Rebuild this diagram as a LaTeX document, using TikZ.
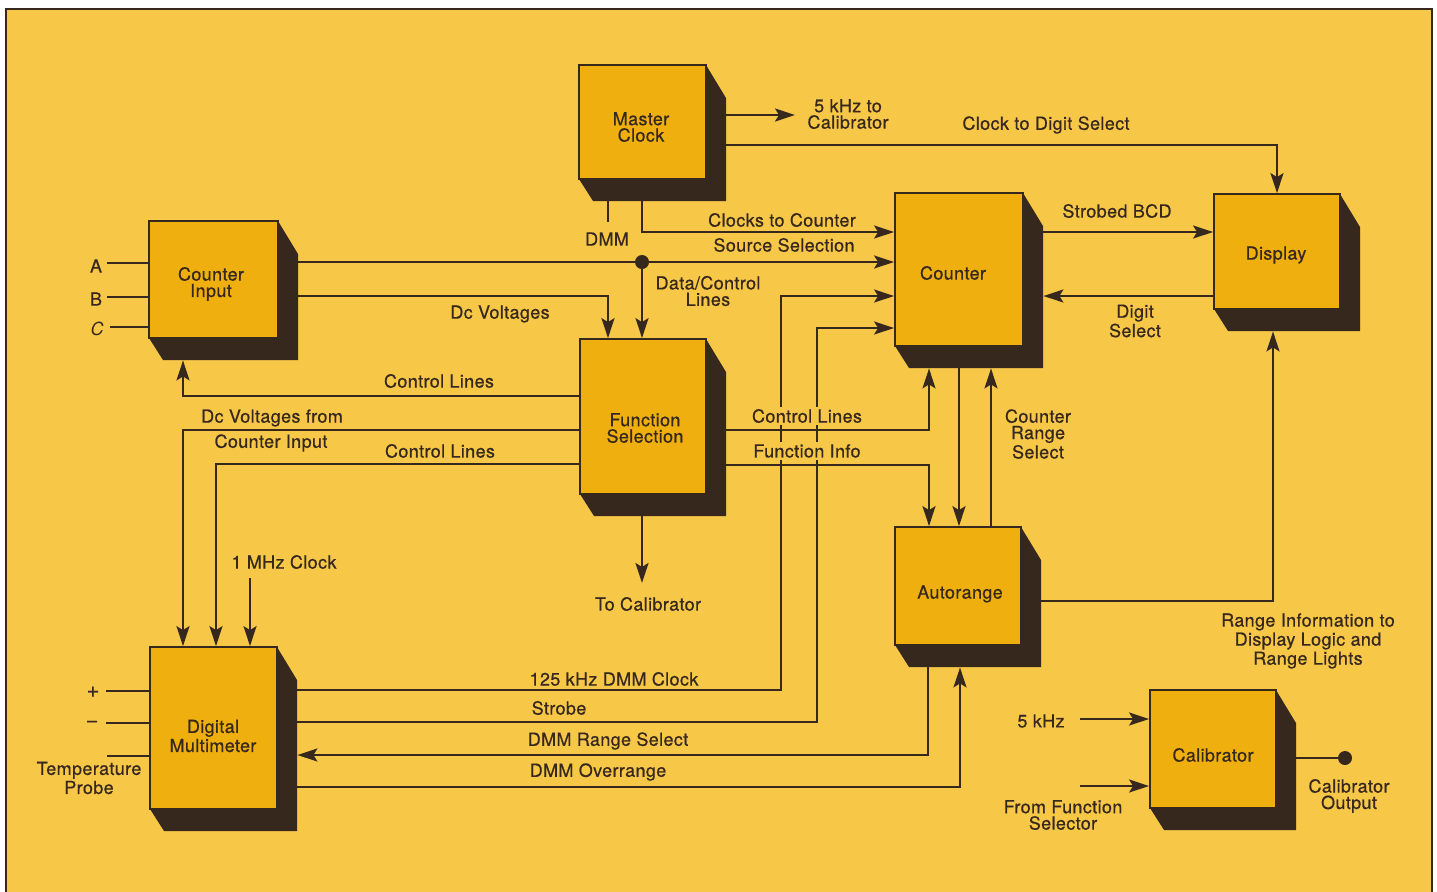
\documentclass[tikz,border=0pt]{standalone}
\usepackage{fontspec}
\setmainfont{TeX Gyre Heros}[BoldFont=TeX Gyre Heros, BoldFeatures={FakeBold=0.6}, LetterSpace=2]
\usetikzlibrary{arrows.meta,fit}
\definecolor{bg}{RGB}{247,200,72}
\definecolor{boxc}{RGB}{239,175,14}
\definecolor{ink}{RGB}{55,40,30}
\newcommand\blkbox[8]{%
  \fill[ink] (#4,#3) -- (#4+20,#3+33) -- (#4+20,#5+22) -- (#2+14,#5+22) -- (#2,#5) -- cycle;
  \node[frontface, fit={(#2,#3) (#4,#5)}] (#1) {};
  \node[inner sep=0pt, fit={(#2,#3) (#4+20,#5+22)}] (#1s) {};
  \node[lbl] (#1t) at (#7,#8) {#6};
}
\begin{document}
\begin{tikzpicture}[x=0.5pt,y=-0.5pt,
  frontface/.style={draw=ink, fill=boxc, line width=0.9pt, inner sep=0pt},
  con/.style={draw=ink, line width=1.1pt},
  arr/.style={con, -{Stealth[length=10pt,width=6.5pt,inset=2pt]}},
  lbl/.style={text=ink, font=\fontsize{9}{8.2}\selectfont\bfseries, align=center, inner sep=0.5pt, yshift=-1pt},
  gaplbl/.style={lbl, fill=bg, inner sep=1pt},
  dot/.style={circle, fill=ink, inner sep=0pt, minimum size=7pt}]
\useasboundingbox (0,0) rectangle (1437,891);
\fill[white] (0,0) rectangle (1437,891);
\fill[bg] (6,9) rectangle (1432,900);
\draw[ink, line width=1.2pt] (6,900) -- (6,9) -- (1432,9) -- (1432,900);

% blocks
\blkbox{mc}{579}{65}{706}{179}{Master\\Clock}{641}{125}
\blkbox{ci}{149}{221}{278}{338}{Counter\\Input}{211}{282}
\blkbox{fs}{580}{339}{706}{494}{Function\\Selection}{645}{426}
\blkbox{cnt}{895}{193}{1023}{346}{Counter}{953}{271}
\blkbox{disp}{1214}{194}{1340}{309}{Display}{1276}{253}
\blkbox{aut}{895}{527}{1021}{645}{Autorange}{960}{592}
\blkbox{dmm}{150}{647}{277}{809}{Digital\\Multimeter}{213}{734}
\blkbox{cal}{1150}{690}{1276}{808}{Calibrator}{1213}{753}

% free ends and corners
\coordinate (c5k) at (795,115);
\coordinate (dmmend) at (608,222);
\coordinate (m1) at (250,578);
\coordinate (tocal) at (642,583);
\coordinate (k1) at (781,296);
\coordinate (k2) at (817,328);
\coordinate (ia) at (107,263);
\coordinate (ib) at (107,297);
\coordinate (ic) at (110,327);
\coordinate (ip) at (106,691);
\coordinate (im) at (106,723);
\coordinate (itp) at (107,756);
\coordinate (i5k) at (1080,719);
\coordinate (iff) at (1080,786);
\node[dot] (j1) at (642,262) {};
\node[dot] (od) at (1345,758) {};

% master clock
\draw[arr] (mcs.east |- c5k) -- (c5k);
\draw[arr] (mcs.east |- 0,145) -| (disp.north);
\draw[con] (mcs.south -| dmmend) -- (dmmend);
\draw[arr] (mcs.south -| 642,0) |- (cnt.west |- 0,232);

% counter input
\draw[arr] (cis.east |- j1) -- (cnt.west |- j1);
\draw[arr] (j1) -- (fs.north -| j1);
\draw[arr] (cis.east |- 0,296) -| (fs.north -| 608,0);
\draw[con] (ia) -- (ci.west |- ia);
\draw[con] (ib) -- (ci.west |- ib);
\draw[con] (ic) -- (ci.west |- ic);

% function selection
\draw[arr] (fs.west |- 0,396) -| (cis.south -| 183,0);
\draw[arr] (fs.west |- 0,430) -| (dmm.north -| 183,0);
\draw[arr] (fs.west |- 0,464) -| (dmm.north -| 216,0);
\draw[arr] (m1) -- (dmm.north -| m1);
\draw[arr] (fss.south -| tocal) -- (tocal);
\draw[arr] (fss.east |- 0,430) -| (cnts.south -| 929,0);
\draw[arr] (fss.east |- 0,465) -| (aut.north -| 929,0);

% counter / display / autorange
\draw[arr] (cnts.south -| 959,0) -- (aut.north -| 959,0);
\draw[arr] (aut.north -| 991,0) -- (cnts.south -| 991,0);
\draw[arr] (cnts.east |- 0,232) -- (disp.west |- 0,232);
\draw[arr] (disp.west |- 0,296) -- (cnts.east |- 0,296);
\draw[arr] (auts.east |- 0,601) -| (disps.south -| 1273,0);

% DMM
\draw[arr] (dmms.east |- 0,690) -| (k1) -- (cnt.west |- k1);
\draw[arr] (dmms.east |- 0,722) -| (k2) -- (cnt.west |- k2);
\draw[arr] (auts.south -| 928,0) |- (dmms.east |- 0,755);
\draw[arr] (dmms.east |- 0,787) -| (auts.south -| 960,0);
\draw[con] (ip) -- (dmm.west |- ip);
\draw[con] (im) -- (dmm.west |- im);
\draw[con] (itp) -- (dmm.west |- itp);

% calibrator
\draw[arr] (i5k) -- (cal.west |- i5k);
\draw[arr] (iff) -- (cal.west |- iff);
\draw[con] (cals.east |- od) -- (od);

% labels
\node[lbl] (l5k) at (848,112) {5 kHz to\\Calibrator};
\node[lbl] (lcds) at (1046,123) {Clock to Digit Select};
\node[lbl] (ldmm) at (607,237) {DMM};
\node[lbl] (lctc) at (782,218) {Clocks to Counter};
\node[lbl] (lss) at (784,243) {Source Selection};
\node[lbl] (ldcl) at (708,289) {Data/Control\\Lines};
\node[lbl] (ldcv) at (500,312) {Dc Voltages};
\node[lbl] (lcl1) at (439,379) {Control Lines};
\node[lbl] (ldvf) at (272,416) {Dc Voltages from};
\node[lbl] (lcin) at (271,441) {Counter Input};
\node[lbl] (lcl2) at (440,449) {Control Lines};
\node[gaplbl] (lcl3) at (807,414) {Control Lines};
\node[gaplbl] (lfi) at (807,449) {Function Info};
\node[lbl] (lsb) at (1117,209) {Strobed BCD};
\node[lbl] (lds) at (1135,319) {Digit\\Select};
\node[lbl] (lcrs) at (1038,432) {Counter\\Range\\Select};
\node[lbl] (l1m) at (284,560) {1 MHz Clock};
\node[lbl] (ltc) at (648,602) {To Calibrator};
\node[lbl] (lri) at (1308,639) {Range Information to\\Display Logic and\\Range Lights};
\node[lbl] (l125) at (614,677) {125 kHz DMM Clock};
\node[lbl] (lstr) at (559,706) {Strobe};
\node[lbl] (ldrs) at (608,739) {DMM Range Select};
\node[lbl] (ldor) at (598,770) {DMM Overrange};
\node[lbl] (la) at (96,264) {A};
\node[lbl] (lb) at (96,297) {B};
\node[lbl] (lc) at (97,327) {\itshape C};
\node[lbl, font=\fontsize{11}{11}\selectfont\bfseries] (lp) at (93,690) {+};
\node[lbl, font=\fontsize{11}{11}\selectfont\bfseries] (lm) at (92,722) {−};
\node[lbl] (ltp) at (89,776) {Temperature\\Probe};
\node[lbl] (l5kc) at (1041,719) {5 kHz};
\node[lbl] (lffs) at (1063,813) {From Function\\Selector};
\node[lbl] (lco) at (1349,794) {Calibrator\\Output};
\end{tikzpicture}
\end{document}
